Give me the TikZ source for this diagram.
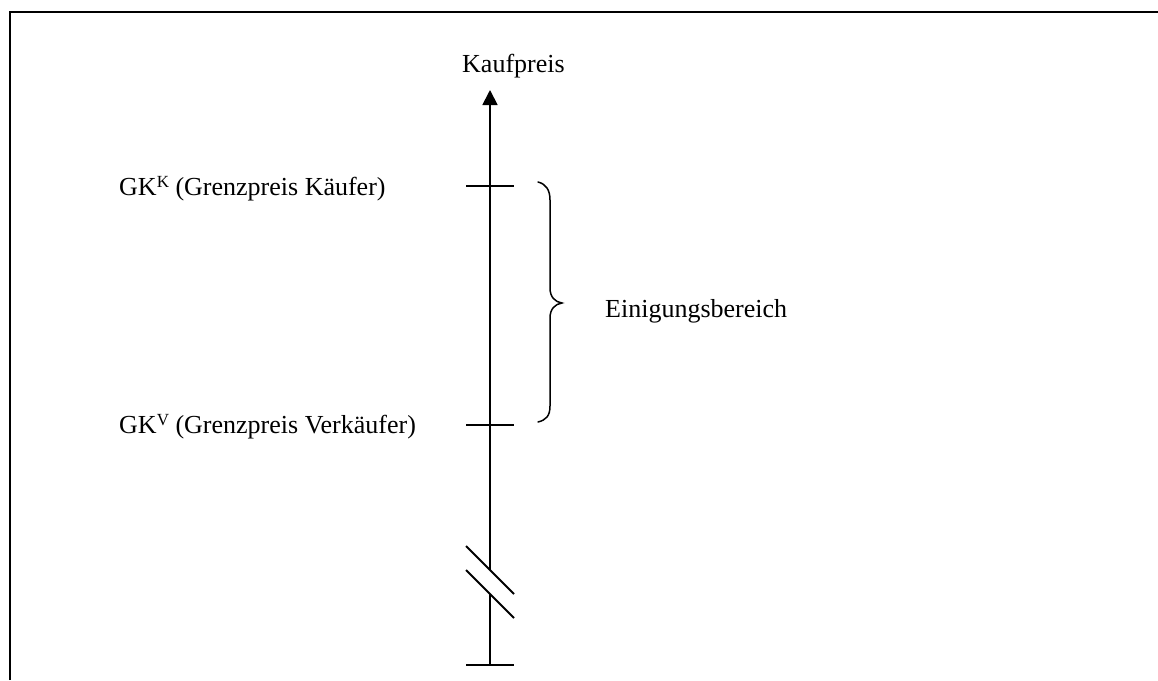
\documentclass[tikz,border=0pt]{standalone}
\usepackage{fontspec}
\setmainfont{Liberation Serif}
\usetikzlibrary{arrows.meta}
\newcommand{\supK}[1]{\raisebox{0.3em}{\fontsize{17}{20}\selectfont #1}}
\begin{document}
\begin{tikzpicture}[x=1pt,y=-1pt,
  axisline/.style={line width=1.8pt},
  tickline/.style={line width=1.8pt},
  braceline/.style={line width=1.5pt, line cap=round},
  lbl/.style={anchor=base west, inner sep=0pt, font=\fontsize{26}{31}\selectfont}]
\useasboundingbox (0,0) rectangle (1158,680);
% frame (cropped)
\draw[line width=1.5pt] (10,680) -- (10,12) -- (1158,12);
% axis coordinates
\coordinate (top) at (490,90);
\coordinate (kk) at (490,186);
\coordinate (kv) at (490,425);
\coordinate (b1) at (490,570);
\coordinate (b2) at (490,594);
\coordinate (bot) at (490,665);
% axis
\draw[axisline,-{Triangle[length=15pt,width=15pt]}] (b1) -- (top);
\draw[axisline] (bot) -- (b2);
% ticks
\draw[tickline] ([xshift=-24pt]kk) -- ([xshift=24pt]kk);
\draw[tickline] ([xshift=-24pt]kv) -- ([xshift=24pt]kv);
\draw[tickline] ([xshift=-24pt]bot) -- ([xshift=24pt]bot);
% break marks
\draw[tickline] ([xshift=-24pt,yshift=24pt]b1) -- ([xshift=24pt,yshift=-24pt]b1);
\draw[tickline] ([xshift=-24pt,yshift=24pt]b2) -- ([xshift=24pt,yshift=-24pt]b2);
% labels
\node[lbl] (kauf) at (462,72) {Kaufpreis};
\node[lbl] (gkk) at (119,195) {GK\supK{K} (Grenzpreis Käufer)};
\node[lbl] (gkv) at (119,433) {GK\supK{V} (Grenzpreis Verkäufer)};
% brace
\coordinate (btop) at (538,182);
\coordinate (btip) at (562,303);
\coordinate (bbot) at (538,422);
\draw[braceline] (btop) .. controls (546,184) and (550,190) .. (550,200)
  -- (550,288) .. controls (550,297) and (555,302) .. (btip)
  .. controls (555,304) and (550,309) .. (550,318)
  -- (550,406) .. controls (550,416) and (546,420) .. (bbot);
\node[lbl] (einig) at (605,317) {Einigungsbereich};
\end{tikzpicture}
\end{document}
